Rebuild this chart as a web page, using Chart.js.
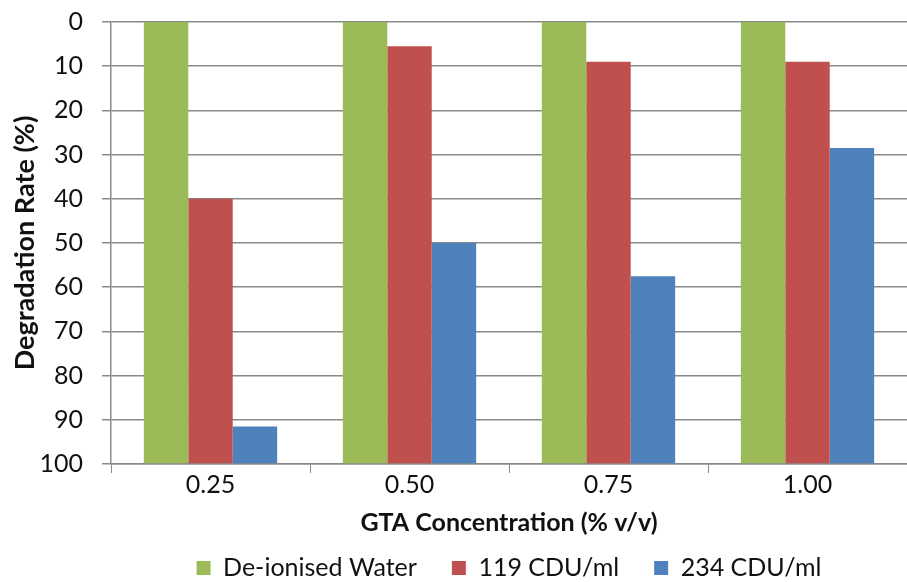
<!DOCTYPE html>
<html>
<head>
<meta charset="utf-8">
<script src="https://cdn.jsdelivr.net/npm/chart.js@4.4.1/dist/chart.umd.min.js"></script>
<style>
  html, body { margin: 0; padding: 0; background: #fff; }
  #wrap { width: 907px; height: 582px; }
</style>
</head>
<body>
<div id="wrap"><canvas id="degChart" width="907" height="582"></canvas></div>
<script>
// Data
const concentrations = ['0.25', '0.50', '0.75', '1.00'];
const waterRate = [0, 0, 0, 0];
const cdu119Rate = [40, 5.5, 9, 9];
const cdu234Rate = [91.5, 50, 57.5, 28.5];
const yTicks = [0, 10, 20, 30, 40, 50, 60, 70, 80, 90, 100];

const fontFamily = 'Lato, "Liberation Sans", sans-serif';
const gridGray = '#8a8a8a';

// bars hang from the category axis, which sits at 100 on the reversed scale
function barSet(label, data, color) {
    return {
        label: label,
        data: data,
        backgroundColor: color,
        base: 100,
        categoryPercentage: 0.67,
        barPercentage: 1.0
    };
}

const ctx = document.getElementById('degChart');
new Chart(ctx, {
    type: 'bar',
    data: {
        labels: concentrations,
        datasets: [
            barSet('De-ionised Water', waterRate, '#9bbb59'),
            barSet('119 CDU/ml', cdu119Rate, '#c0504d'),
            barSet('234 CDU/ml', cdu234Rate, '#4f81bd')
        ]
    },
    options: {
        responsive: false,
        animation: false,
        layout: { padding: { left: 0, right: 0, top: 22, bottom: -8.5 } },
        plugins: {
            legend: {
                position: 'bottom',
                fullSize: false,
                labels: {
                    boxWidth: 14,
                    boxHeight: 14,
                    padding: 35,
                    color: '#111',
                    font: { family: fontFamily, size: 25 }
                }
            },
            tooltip: { enabled: false }
        },
        scales: {
            x: {
                afterFit: axis => { axis.height = 56.5; },
                grid: {
                    offset: true,
                    drawOnChartArea: false,
                    tickLength: 9,
                    color: gridGray
                },
                border: { color: gridGray, width: 1.5 },
                ticks: {
                    color: '#111',
                    padding: -3,
                    font: { family: fontFamily, size: 25 }
                },
                title: {
                    display: true,
                    text: 'GTA Concentration (% v/v)',
                    color: '#111',
                    padding: { top: 0, bottom: -17.5 },
                    font: { family: fontFamily, size: 25, weight: 'bold' }
                }
            },
            y: {
                reverse: true,
                min: 0,
                max: 100,
                afterBuildTicks: axis => {
                    axis.ticks = yTicks.map(v => ({ value: v }));
                },
                afterFit: axis => {
                    axis.width = 111;
                    axis.paddingTop = 0;
                    axis.paddingBottom = 0;
                },
                grid: {
                    color: gridGray,
                    lineWidth: 1.5,
                    tickLength: 9
                },
                border: { color: gridGray, width: 1.5 },
                ticks: {
                    color: '#111',
                    padding: 19,
                    font: { family: fontFamily, size: 25 }
                },
                title: {
                    display: true,
                    text: 'Degradation Rate (%)',
                    color: '#111',
                    padding: { top: 9, bottom: 0 },
                    font: { family: fontFamily, size: 27, weight: 'bold' }
                }
            }
        }
    }
});
</script>
</body>
</html>
